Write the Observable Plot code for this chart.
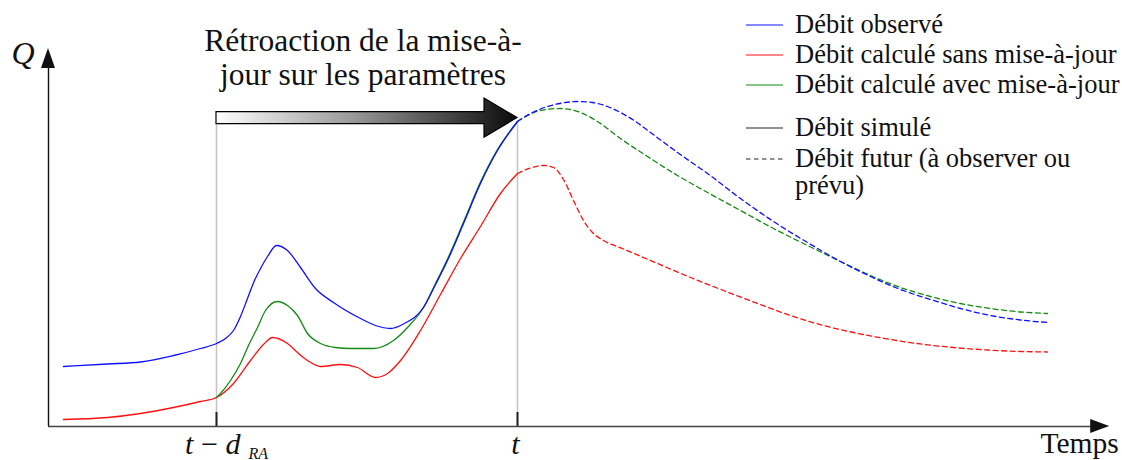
<!DOCTYPE html>
<html>
<head>
<meta charset="utf-8">
<script src="https://cdn.jsdelivr.net/npm/d3@7"></script>
<script src="https://cdn.jsdelivr.net/npm/@observablehq/plot@0.6"></script>
<style>
  html, body { margin: 0; padding: 0; background: #fff; }
  #wrap { position: relative; width: 1122px; height: 460px; font-family: "Liberation Serif", "Times New Roman", serif; color: #111; }
  #wrap svg { position: absolute; left: 0; top: 0; }
  .lg-text { position: absolute; font-size: 26.5px; line-height: 30px; white-space: nowrap; }
  .lg-wrap { white-space: normal; width: 322px; line-height: 27px; }
  .lg-sw { position: absolute; }
</style>
</head>
<body>
<div id="wrap"></div>
<script>
// ---------------- data (time T and discharge Q, arbitrary units) ----------------
const blueSimT = [2.14, 8.43, 13.14, 17.86, 21.71, 24, 25.29, 26.43, 27.43, 28.43, 29.43, 30.29, 31.29, 32.57, 34.14, 36, 38.14, 40.71, 44.57, 46.71, 48.86, 50.71, 53.57, 55.29, 57, 59.29, 61.71, 64.14, 67];
const blueSimQ = [15, 15.63, 16.13, 17.75, 19.5, 20.75, 22, 24, 27.5, 32, 36.5, 39.5, 42.5, 45.25, 44, 39.75, 34.5, 31, 27, 25.25, 24.5, 25.63, 29.75, 35.5, 41.5, 50.75, 60.75, 69, 76.25];
const blueFutT = [67, 69.14, 71.29, 73.43, 75.57, 77.71, 79.86, 81.71, 83.86, 86, 89.86, 94.14, 98.86, 103.57, 108.43, 113.14, 117.43, 121.71, 126, 130.29, 134.57, 138.86, 142.71];
const blueFutQ = [76.25, 78.5, 80, 80.88, 81.25, 81, 80, 78.5, 76.25, 73.5, 68.5, 63.25, 57, 51.25, 46, 41.25, 37.5, 34.25, 31.75, 29.5, 27.75, 26.63, 26];

const redSimT = [2.14, 8.43, 13.14, 17.86, 21.71, 24, 26.43, 28.86, 30.71, 32, 34.14, 35.57, 37, 38.86, 41.71, 44.14, 46.71, 48.43, 50.29, 53.14, 56, 58.86, 61.71, 64.57, 67];
const redSimQ = [1.75, 2.25, 3.25, 4.75, 6.25, 7.25, 10.75, 16.5, 20.5, 22.25, 20.75, 18.5, 16.5, 15, 15.5, 14.75, 12.25, 13.25, 16.5, 24, 33, 42, 50, 58.25, 63.25];
const redFutT = [67, 68.86, 70.71, 72.14, 73.57, 75, 76.43, 77.71, 79.29, 82.14, 87, 91.71, 96.43, 101.29, 106, 110.71, 115, 119.86, 124.57, 129.29, 134.14, 138.86, 142.71];
const redFutQ = [63.25, 64.63, 65.25, 64.75, 61.75, 56.5, 51.5, 48.5, 46.5, 44.38, 40.75, 37.25, 34, 30.75, 27.75, 25.25, 23.5, 21.88, 20.63, 19.75, 19.13, 18.75, 18.63];

const greenSimT = [24, 24.57, 26, 27.43, 28.57, 29.86, 31, 32.71, 34.14, 35.57, 37, 38.86, 41, 43.14, 46.43, 49.29, 51.29, 53.57, 55.29, 57, 59.29, 61.71, 64.14, 67];
const greenSimQ = [7.25, 8.25, 11.5, 15.75, 20.25, 24.75, 29, 31.25, 30.25, 27.75, 23.25, 20.75, 19.75, 19.5, 19.5, 21.5, 24.75, 29.75, 35.75, 41.88, 51.13, 61.13, 69.25, 76.25];
const greenFutT = [67, 68.86, 71, 73.14, 76, 78.43, 81.71, 85.57, 89.86, 94.14, 98.86, 103.57, 108.43, 113.14, 117.43, 121.71, 126, 130.29, 134.57, 138.86, 142.71];
const greenFutQ = [76.25, 78.13, 79.25, 79.5, 78.5, 76.25, 72, 67.5, 62.75, 58.5, 54, 49.5, 45.25, 41.25, 37.75, 34.75, 32.5, 30.75, 29.5, 28.63, 28.25];

const seriesNames = ["Débit observé", "Débit calculé sans mise-à-jour", "Débit calculé avec mise-à-jour"];
const seriesColors = ["#1010ff", "#ff1010", "#138a13"];
const styleNames = ["Débit simulé", "Débit futur (à observer ou prévu)"];
const styleDashes = [null, "5,3.5"];

const tickTimes = [24, 67];
const tickLabels = ["t\u2009\u2212\u2009d", "t"];
const tickSubs = ["RA", ""];

const arrowStart = 24, arrowEnd = 67, arrowQ = 77.1;
const titleText = "Rétroaction de la mise-à-\njour sur les paramètres";
const xAxisLabel = "Temps", yAxisLabel = "Q";
const xMax = 152, yMax = 96, xAxisEnd = 151.6, yAxisEnd = 94.5;

// ---------------- build ----------------
const rows = (T, Q) => T.map((t, i) => ({t, q: Q[i]}));
const simSets = [rows(blueSimT, blueSimQ), rows(redSimT, redSimQ), rows(greenSimT, greenSimQ)];
const futSets = [rows(blueFutT, blueFutQ), rows(redFutT, redFutQ), rows(greenFutT, greenFutQ)];
const drawOrder = [1, 2, 0];

function axisHeads(index, scales) {
  const x = scales.x, y = scales.y;
  const g = d3.create("svg:g").attr("fill", "#111");
  const x0 = x(0), yb = y(0), xe = x(xAxisEnd), ye = y(yAxisEnd);
  g.append("path").attr("d", `M${xe},${yb}L${xe - 19},${yb - 7}L${xe - 19},${yb + 7}Z`);
  g.append("path").attr("d", `M${x0},${ye}L${x0 - 7},${ye + 20}L${x0 + 7},${ye + 20}Z`);
  return g.node();
}

function feedbackArrow(index, scales) {
  const x = scales.x, y = scales.y;
  const x0 = x(arrowStart), x1 = x(arrowEnd), yc = y(arrowQ);
  const hl = 33, hh = 19.5, sh = 6;
  const g = d3.create("svg:g");
  const grad = g.append("defs").append("linearGradient")
    .attr("id", "fbGrad").attr("gradientUnits", "userSpaceOnUse")
    .attr("x1", x0).attr("x2", x1).attr("y1", 0).attr("y2", 0);
  grad.append("stop").attr("offset", "0").attr("stop-color", "#ffffff");
  grad.append("stop").attr("offset", "0.45").attr("stop-color", "#9a9a9a");
  grad.append("stop").attr("offset", "1").attr("stop-color", "#0a0a0a");
  const pts = [[x0, yc - sh], [x1 - hl, yc - sh], [x1 - hl, yc - hh], [x1, yc], [x1 - hl, yc + hh], [x1 - hl, yc + sh], [x0, yc + sh]];
  g.append("path").attr("d", "M" + pts.map(p => p.join(",")).join("L") + "Z")
    .attr("fill", "url(#fbGrad)").attr("stroke", "#000").attr("stroke-width", 1.2);
  return g.node();
}

const marks = [
  Plot.ruleX(tickTimes, {y1: 0, y2: arrowQ - 1.5, stroke: "#c4c4c4", strokeWidth: 1.5}),
  Plot.ruleX(tickTimes, {y1: 0, y2: 3.5, stroke: "#222", strokeWidth: 2}),
  Plot.ruleY([0], {x1: 0, x2: xAxisEnd - 2.7, stroke: "#444", strokeWidth: 1.6}),
  Plot.ruleX([0], {y1: 0, y2: yAxisEnd - 5, stroke: "#111", strokeWidth: 1.4}),
  axisHeads
];
for (const i of drawOrder) {
  marks.push(Plot.line(simSets[i], {x: "t", y: "q", stroke: seriesColors[i], strokeWidth: 1.3, curve: "monotone-x"}));
}
for (const i of drawOrder) {
  marks.push(Plot.line(futSets[i], {x: "t", y: "q", stroke: seriesColors[i], strokeWidth: 1.3, strokeDasharray: styleDashes[1], curve: "monotone-x"}));
}
marks.push(feedbackArrow);
marks.push(Plot.text([titleText], {x: (arrowStart + arrowEnd) / 2, y: arrowQ, text: d => d, lineAnchor: "bottom", dx: -4, dy: -33.5, fontSize: 31.5, lineHeight: 1.08, fill: "#111"}));
marks.push(Plot.text([xAxisLabel], {x: xAxisEnd, y: 0, text: d => d, textAnchor: "end", lineAnchor: "bottom", dx: 9, dy: 26, fontSize: 29.5, fill: "#111"}));
marks.push(Plot.text([yAxisLabel], {x: 0, y: yAxisEnd, text: d => d, textAnchor: "end", lineAnchor: "bottom", dx: -14, dy: 15, fontSize: 32, fontStyle: "italic", fill: "#111"}));
marks.push(Plot.text([{t: tickTimes[0], label: tickLabels[0]}], {x: "t", y: 0, text: "label", textAnchor: "end", lineAnchor: "bottom", dx: 24, dy: 27, fontSize: 30, fontStyle: "italic", fill: "#111"}));
marks.push(Plot.text([{t: tickTimes[0], label: tickSubs[0]}], {x: "t", y: 0, text: "label", textAnchor: "start", lineAnchor: "bottom", dx: 32, dy: 32, fontSize: 16, fontStyle: "italic", fill: "#111"}));
marks.push(Plot.text([{t: tickTimes[1], label: tickLabels[1]}], {x: "t", y: 0, text: "label", textAnchor: "middle", lineAnchor: "bottom", dx: -2, dy: 27, fontSize: 30, fontStyle: "italic", fill: "#111"}));

const plot = Plot.plot({
  width: 1122, height: 460,
  marginLeft: 48, marginRight: 10, marginTop: 42, marginBottom: 34,
  x: {domain: [0, xMax], axis: null},
  y: {domain: [0, yMax], axis: null},
  style: {fontFamily: "'Liberation Serif', 'Times New Roman', serif", background: "transparent", overflow: "visible"},
  marks
});

const wrap = document.getElementById("wrap");
wrap.appendChild(plot);

// ---------------- legend (HTML) ----------------
const legendItems = [
  ...seriesNames.map((n, i) => ({name: n, color: seriesColors[i], dash: null})),
  ...styleNames.map((n, i) => ({name: n, color: "#222", dash: styleDashes[i]}))
];
const legendBaselines = [33, 63, 93, 136, 167];
legendItems.forEach((it, i) => {
  const b = legendBaselines[i];
  const sw = document.createElementNS("http://www.w3.org/2000/svg", "svg");
  sw.setAttribute("class", "lg-sw");
  sw.setAttribute("width", 40); sw.setAttribute("height", 4);
  sw.style.left = "745px"; sw.style.top = (b - 10) + "px";
  const ln = document.createElementNS("http://www.w3.org/2000/svg", "line");
  ln.setAttribute("x1", 1); ln.setAttribute("x2", 38); ln.setAttribute("y1", 2); ln.setAttribute("y2", 2);
  ln.setAttribute("stroke", it.color); ln.setAttribute("stroke-width", 1.2);
  if (it.dash) ln.setAttribute("stroke-dasharray", "4.5,3.5");
  sw.appendChild(ln);
  wrap.appendChild(sw);
  const tx = document.createElement("div");
  const last = i === legendItems.length - 1;
  tx.className = "lg-text" + (last ? " lg-wrap" : "");
  tx.textContent = it.name;
  tx.style.left = "795px";
  tx.style.top = (b - (last ? 22.5 : 24)) + "px";
  wrap.appendChild(tx);
});
</script>
</body>
</html>
